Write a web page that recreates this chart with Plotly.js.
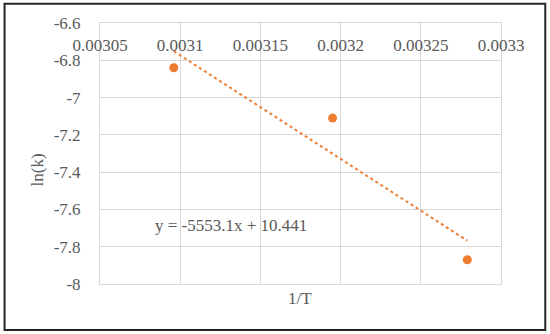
<!DOCTYPE html>
<html>
<head>
<meta charset="utf-8">
<script src="https://cdn.plot.ly/plotly-3.0.1.min.js"></script>
<style>
  html, body { margin: 0; padding: 0; background: #fff; }
  #chart { width: 550px; height: 334px; }
</style>
</head>
<body>
<div id="chart"></div>
<script>
// Data
var invT = [0.003096, 0.003195, 0.003279];
var lnK = [-6.84, -7.11, -7.87];
var trendSlope = -5553.1;
var trendIntercept = 10.441;
var xTickVals = [0.00305, 0.0031, 0.00315, 0.0032, 0.00325, 0.0033];
var xTickLabels = ["0.00305", "0.0031", "0.00315", "0.0032", "0.00325", "0.0033"];
var yTickVals = [-8, -7.8, -7.6, -7.4, -7.2, -7, -6.8, -6.6];
var yTickLabels = ["-8", "-7.8", "-7.6", "-7.4", "-7.2", "-7", "-6.8", "-6.6"];
var equationText = "y = -5553.1x + 10.441";

var orange = "#ED7D31";
var grey = "#595959";
var font = "'Liberation Serif', 'Times New Roman', serif";
var fs = 17;

var xMin = Math.min.apply(null, invT), xMax = Math.max.apply(null, invT);
var trendX = [xMin, xMax];
var trendY = trendX.map(function (x) { return trendSlope * x + trendIntercept; });

var traces = [
  {
    x: trendX, y: trendY, type: "scatter", mode: "lines",
    line: { color: orange, width: 2, dash: "dot" },
    hoverinfo: "skip", showlegend: false, cliponaxis: false
  },
  {
    x: invT, y: lnK, type: "scatter", mode: "markers",
    marker: { color: orange, size: 9 },
    showlegend: false, cliponaxis: false
  }
];

var L = 99.5, R = 49.3, T = 23.3, B = 50;
var pw = 550 - L - R, ph = 334 - T - B;
function px(v) { return (v - L) / pw; }
function py(v) { return 1 - (v - T) / ph; }

var layout = {
  width: 550, height: 334,
  margin: { l: L, r: R, t: T, b: B, pad: 0 },
  paper_bgcolor: "#fff", plot_bgcolor: "#fff",
  font: { family: font, color: grey, size: fs },
  xaxis: {
    side: "top",
    range: [0.00305, 0.0033],
    tickvals: xTickVals, ticktext: xTickLabels,
    ticklabelposition: "inside",
    ticklabeloverflow: "allow",
    ticks: "", ticklabelstandoff: 17,
    showgrid: true, gridcolor: "#d9d9d9", gridwidth: 1,
    showline: true, linecolor: "#d9d9d9", linewidth: 1, mirror: true,
    zeroline: false,
    tickfont: { family: font, color: grey, size: fs }
  },
  yaxis: {
    range: [-8, -6.6],
    tickvals: yTickVals, ticktext: yTickLabels,
    ticklabeloverflow: "allow",
    ticks: "", ticklabelstandoff: 15,
    showgrid: true, gridcolor: "#d9d9d9", gridwidth: 1,
    showline: true, linecolor: "#d9d9d9", linewidth: 1, mirror: true,
    zeroline: false,
    tickfont: { family: font, color: grey, size: fs }
  },
  annotations: [
    {
      xref: "paper", yref: "paper", x: px(300), y: py(298),
      text: "1/T", showarrow: false, xanchor: "center", yanchor: "middle",
      font: { family: font, color: grey, size: fs }
    },
    {
      xref: "paper", yref: "paper", x: px(37), y: py(170),
      text: "ln(k)", showarrow: false, textangle: -90, xanchor: "center", yanchor: "middle",
      font: { family: font, color: grey, size: fs }
    },
    {
      xref: "paper", yref: "paper", x: px(153), y: py(226),
      text: equationText, showarrow: false, xanchor: "left", yanchor: "middle",
      font: { family: font, color: grey, size: fs }
    }
  ],
  shapes: [
    {
      type: "rect", xref: "paper", yref: "paper",
      x0: px(4), x1: px(545), y0: py(330), y1: py(4),
      line: { color: "#262626", width: 2 }, fillcolor: "rgba(0,0,0,0)", layer: "above"
    }
  ]
};

Plotly.newPlot("chart", traces, layout, { displayModeBar: false, staticPlot: true });
</script>
</body>
</html>
